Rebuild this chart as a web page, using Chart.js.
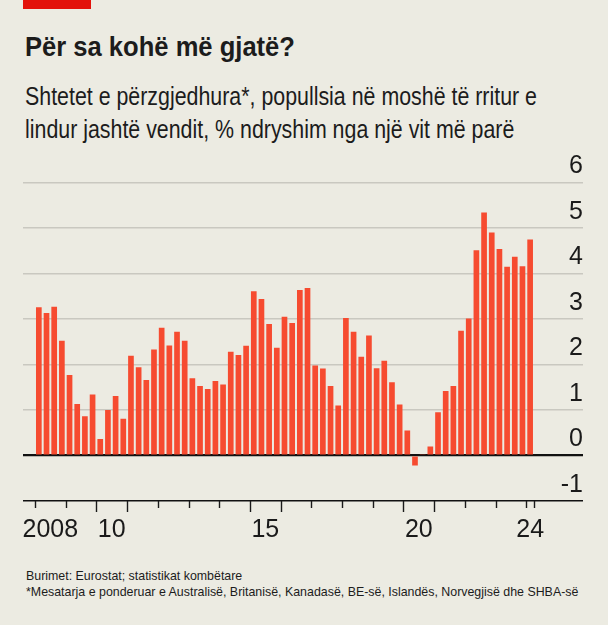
<!DOCTYPE html>
<html><head><meta charset="utf-8">
<script src="https://cdn.jsdelivr.net/npm/chart.js@4.4.1/dist/chart.umd.min.js"></script>
<style>
html,body{margin:0;padding:0;background:#ecebe2;}
body{width:608px;height:625px;position:relative;overflow:hidden;font-family:"Liberation Sans",Arial,sans-serif;color:#1c1c1c;}
#redbar{position:absolute;left:23px;top:0;width:68px;height:9px;background:#e3120b;}
#title{position:absolute;left:25px;top:31px;font-weight:bold;font-size:28px;line-height:32px;white-space:nowrap;transform:scaleX(0.913);transform-origin:left top;}
#sub{position:absolute;left:25px;top:80px;font-size:25.5px;line-height:33px;white-space:nowrap;transform:scaleX(0.838);transform-origin:left top;}
#foot{position:absolute;left:26px;top:568px;font-size:12.4px;line-height:16px;white-space:nowrap;}
canvas{position:absolute;left:0;top:0;}
</style></head>
<body>
<div id="redbar"></div>
<div id="title">Për sa kohë më gjatë?</div>
<div id="sub">Shtetet e përzgjedhura*, popullsia në moshë të rritur e<br>lindur jashtë vendit, % ndryshim nga një vit më parë</div>
<div id="foot">Burimet: Eurostat; statistikat kombëtare<br>*Mesatarja e ponderuar e Australisë, Britanisë, Kanadasë, BE-së, Islandës, Norvegjisë dhe SHBA-së</div>
<canvas id="c" width="608" height="625"></canvas>
<script>
// Quarters, 2008 Q1 – 2024 Q1
const quarters = [
 '2008Q1','2008Q2','2008Q3','2008Q4','2009Q1','2009Q2','2009Q3','2009Q4',
 '2010Q1','2010Q2','2010Q3','2010Q4','2011Q1','2011Q2','2011Q3','2011Q4',
 '2012Q1','2012Q2','2012Q3','2012Q4','2013Q1','2013Q2','2013Q3','2013Q4',
 '2014Q1','2014Q2','2014Q3','2014Q4','2015Q1','2015Q2','2015Q3','2015Q4',
 '2016Q1','2016Q2','2016Q3','2016Q4','2017Q1','2017Q2','2017Q3','2017Q4',
 '2018Q1','2018Q2','2018Q3','2018Q4','2019Q1','2019Q2','2019Q3','2019Q4',
 '2020Q1','2020Q2','2020Q3','2020Q4','2021Q1','2021Q2','2021Q3','2021Q4',
 '2022Q1','2022Q2','2022Q3','2022Q4','2023Q1','2023Q2','2023Q3','2023Q4',
 '2024Q1'
];
// % change on a year earlier
const changePct = [
 3.26,3.13,3.27,2.52, 1.77,1.13,0.86,1.34,
 0.36,1.00,1.31,0.81, 2.19,1.94,1.66,2.33,
 2.81,2.42,2.72,2.52, 1.70,1.53,1.46,1.64,
 1.56,2.28,2.21,2.41, 3.61,3.44,2.89,2.37,
 3.05,2.91,3.64,3.68, 1.98,1.91,1.53,1.10,
 3.02,2.72,2.17,2.64, 1.92,2.08,1.61,1.12,
 0.55,-0.22,0.03,0.20, 0.95,1.42,1.53,2.74,
 3.01,4.51,5.34,4.90, 4.54,4.15,4.37,4.16,
 4.75
];
// x-axis tick labels (value in years, text)
const xLabelValues = [2008.5, 2010.5, 2015.5, 2020.5, 2024.125];
const xLabelTexts  = ['2008', '10', '15', '20', '24'];
// tick marks at year boundaries
const tickYears = [2008,2009,2010,2011,2012,2013,2014,2015,2016,2017,2018,2019,2020,2021,2022,2023,2024,2024.25];
const longTickYears = [2010,2011,2015,2016,2020,2021];
const yTicks = [-1,0,1,2,3,4,5,6];

function quarterToX(q){ const y=+q.slice(0,4), n=+q.slice(5); return y + (n-0.5)/4; }
const points = quarters.map((q,i)=>({x:quarterToX(q), y:changePct[i]}));

const tickMarks = {
  id:'tickMarks',
  afterDraw(chart){
    const xs = chart.scales.x, ys = chart.scales.y, ctx = chart.ctx;
    const y0 = ys.getPixelForValue(-1);
    ctx.save();
    ctx.strokeStyle = '#1a1a1a';
    ctx.lineWidth = 1.4;
    tickYears.forEach(v=>{
      const px = Math.round(xs.getPixelForValue(v))+0.5;
      const len = longTickYears.includes(v) ? 11 : 7;
      ctx.beginPath(); ctx.moveTo(px, y0); ctx.lineTo(px, y0+len); ctx.stroke();
    });
    ctx.restore();
  }
};

new Chart(document.getElementById('c'), {
  type:'bar',
  data:{ datasets:[{ data: points, backgroundColor:'rgb(246,75,48)', borderWidth:0,
    barPercentage:0.74, categoryPercentage:1 }]},
  options:{
    responsive:false, animation:false, devicePixelRatio:1,
    layout:{ padding:{left:23, right:25, top:182.5, bottom:74}},
    plugins:{ legend:{display:false}, tooltip:{enabled:false}},
    scales:{
      x:{ type:'linear', position:'bottom', min:2007.6092, max:2025.8467, offset:false,
        grid:{display:false, drawTicks:false, offset:false}, border:{display:false},
        afterBuildTicks(s){ s.ticks = xLabelValues.map(v=>({value:v})); },
        afterFit(s){ s.height = 50; },
        ticks:{ autoSkip:false, maxRotation:0, padding:14, color:'#1a1a1a',
          font:{family:'"Liberation Sans", Arial, sans-serif', size:25},
          callback:(v,i)=>xLabelTexts[i] }
      },
      y:{ position:'right', min:-1, max:6,
        afterBuildTicks(s){ s.ticks = yTicks.map(v=>({value:v})); },
        afterFit(s){ s.width = 0; },
        border:{display:false},
        grid:{ drawTicks:false,
          color:c=> (c.tick && (c.tick.value===0 || c.tick.value===-1)) ? '#111111' : '#c9c8c0',
          lineWidth:c=> (c.tick && c.tick.value===0) ? 2.2 : (c.tick && c.tick.value===-1 ? 1.5 : 1.4) },
        ticks:{ mirror:true, padding:0, labelOffset:-16, color:'#1a1a1a',
          font:{family:'"Liberation Sans", Arial, sans-serif', size:25},
          callback:v=>String(v) }
      }
    }
  },
  plugins:[tickMarks]
});
</script>
</body></html>
